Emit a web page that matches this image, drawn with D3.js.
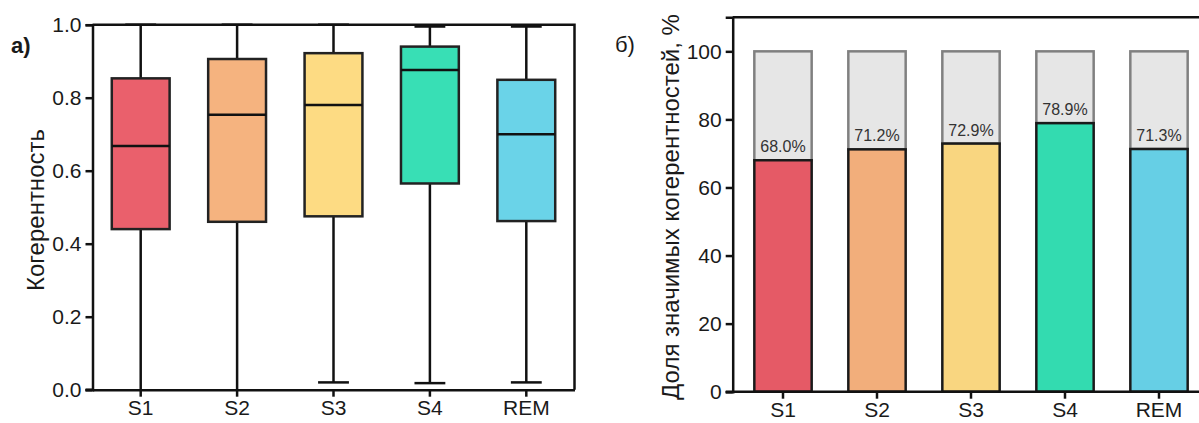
<!DOCTYPE html>
<html>
<head>
<meta charset="utf-8">
<script src="https://cdn.jsdelivr.net/npm/d3@7"></script>
<style>
body{margin:0;background:#fff;}
svg text{font-family:"Liberation Sans",Arial,sans-serif;fill:#1a1a1a;}
</style>
</head>
<body>
<div id="chart"></div>
<script>
// categories
var stages = ["S1","S2","S3","S4","REM"];
// panel a: box plot stats (coherence)
var whiskLow  = [0.0, 0.0, 0.02, 0.018, 0.02];
var quart1    = [0.44, 0.46, 0.475, 0.565, 0.462];
var medians   = [0.668, 0.753, 0.78, 0.876, 0.70];
var quart3    = [0.853, 0.906, 0.922, 0.94, 0.849];
var whiskHigh = [1.0, 1.0, 1.0, 0.995, 0.995];
var boxColors = ["#ea606c","#f5b37f","#fddb83","#38dfb5","#6ad3e8"];
// panel б: share of significant coherences, %
var sigShare  = [68.0, 71.2, 72.9, 78.9, 71.3];
var sigLabels = ["68.0%","71.2%","72.9%","78.9%","71.3%"];
var barColors = ["#e55a66","#f2ae7b","#f9d680","#33dbb0","#66cfe5"];
var ticksA = [0,0.2,0.4,0.6,0.8,1.0];
var ticksB = [0,20,40,60,80,100];

var W=1199,H=423;
var svg=d3.select("#chart").append("svg").attr("width",W).attr("height",H);

//---------- panel a ----------
var xa=d3.scaleBand().domain(stages).range([92.5,574.5]);
var ya=d3.scaleLinear().domain([0,1]).range([389.7,24.7]);
var ga=svg.append("g");
var boxW=xa.bandwidth()*0.6, capW=xa.bandwidth()*0.32;
var rows=stages.map(function(s,i){return {s:s,lo:whiskLow[i],q1:quart1[i],md:medians[i],q3:quart3[i],hi:whiskHigh[i],c:boxColors[i]};});
var bx=ga.selectAll("g.box").data(rows).enter().append("g").attr("class","box")
	.attr("transform",function(d){return "translate("+(xa(d.s)+xa.bandwidth()/2)+",0)";});
bx.append("line").attr("x1",0).attr("x2",0).attr("y1",function(d){return ya(d.hi);}).attr("y2",function(d){return ya(d.q3);})
	.attr("stroke","#111").attr("stroke-width",2.5);
bx.append("line").attr("x1",0).attr("x2",0).attr("y1",function(d){return ya(d.q1);}).attr("y2",function(d){return ya(d.lo);})
	.attr("stroke","#111").attr("stroke-width",2.5);
bx.append("line").attr("x1",-capW/2).attr("x2",capW/2).attr("y1",function(d){return ya(d.hi);}).attr("y2",function(d){return ya(d.hi);})
	.attr("stroke","#111").attr("stroke-width",2.5);
bx.filter(function(d){return d.lo>0;}).append("line").attr("x1",-capW/2).attr("x2",capW/2).attr("y1",function(d){return ya(d.lo);}).attr("y2",function(d){return ya(d.lo);})
	.attr("stroke","#111").attr("stroke-width",2.5);
bx.append("rect").attr("x",-boxW/2).attr("width",boxW)
	.attr("y",function(d){return ya(d.q3);}).attr("height",function(d){return ya(d.q1)-ya(d.q3);})
	.attr("fill",function(d){return d.c;}).attr("stroke","#222").attr("stroke-width",2.5);
bx.append("line").attr("x1",-boxW/2).attr("x2",boxW/2).attr("y1",function(d){return ya(d.md);}).attr("y2",function(d){return ya(d.md);})
	.attr("stroke","#111").attr("stroke-width",2.5);
// frame top/right
ga.append("path").attr("d","M92.5,"+ya(1)+"H574.5V"+ya(0)).attr("fill","none").attr("stroke","#111").attr("stroke-width",2.5);
ga.append("g").attr("transform","translate(92.5,0)")
	.call(d3.axisLeft(ya).tickValues(ticksA).tickFormat(d3.format(".1f")).tickSize(7).tickPadding(4));
ga.append("g").attr("transform","translate(0,"+ya(0)+")")
	.call(d3.axisBottom(xa).tickSize(7).tickPadding(3).tickSizeOuter(0));
ga.append("line").attr("x1",85.5).attr("x2",92.5).attr("y1",ya(0)).attr("y2",ya(0)).attr("stroke","#111").attr("stroke-width",2.5);
ga.append("text").attr("transform","translate(44,210)rotate(-90)").attr("text-anchor","middle")
	.style("font-size","24px").text("Когерентность");
ga.append("text").attr("x",11).attr("y",53).style("font-size","22px").style("font-weight","bold").text("а)");

//---------- panel б ----------
var xb=d3.scaleBand().domain(stages).range([736,1206]);
var yb=d3.scaleLinear().domain([0,110]).range([391.7,17.3]);
var gb=svg.append("g");
var barW=xb.bandwidth()*0.61;
var brows=stages.map(function(s,i){return {s:s,v:sigShare[i],lab:sigLabels[i],c:barColors[i]};});
var bb=gb.selectAll("g.bar").data(brows).enter().append("g").attr("class","bar")
	.attr("transform",function(d){return "translate("+(xb(d.s)+xb.bandwidth()/2)+",0)";});
bb.append("rect").attr("x",-barW/2).attr("width",barW).attr("y",yb(100)).attr("height",function(d){return yb(d.v)-yb(100);})
	.attr("fill","#e6e6e6").attr("stroke","#808080").attr("stroke-width",2.5);
bb.append("rect").attr("x",-barW/2).attr("width",barW).attr("y",function(d){return yb(d.v);}).attr("height",function(d){return yb(0)-yb(d.v);})
	.attr("fill",function(d){return d.c;}).attr("stroke","#1a1a1a").attr("stroke-width",2.5);
bb.append("text").attr("y",function(d){return yb(d.v)-8;}).attr("text-anchor","middle")
	.style("font-size","16px").style("fill","#333").text(function(d){return d.lab;});
gb.append("path").attr("d","M732.7,"+yb(110)+"H1210").attr("fill","none").attr("stroke","#111").attr("stroke-width",2.5);
gb.append("g").attr("transform","translate(732.7,0)")
	.call(d3.axisLeft(yb).tickValues(ticksB).tickSize(7).tickPadding(4));
gb.append("g").attr("transform","translate(0,"+yb(0)+")")
	.call(d3.axisBottom(xb).tickSize(7).tickPadding(3).tickSizeOuter(0))
	.select(".domain").attr("d","M725.7,0H1210");
gb.append("text").attr("transform","translate(679,207)rotate(-90)").attr("text-anchor","middle")
	.style("font-size","24px").text("Доля значимых когерентностей, %");
gb.append("text").attr("x",615).attr("y",52).style("font-size","22px").text("б)");

svg.selectAll(".domain").attr("stroke","#111").attr("stroke-width",2.5);
svg.selectAll(".tick line").attr("stroke","#111").attr("stroke-width",2.5);
svg.selectAll(".tick text").style("font-size","21px").attr("fill","#1a1a1a");
</script>
</body>
</html>
